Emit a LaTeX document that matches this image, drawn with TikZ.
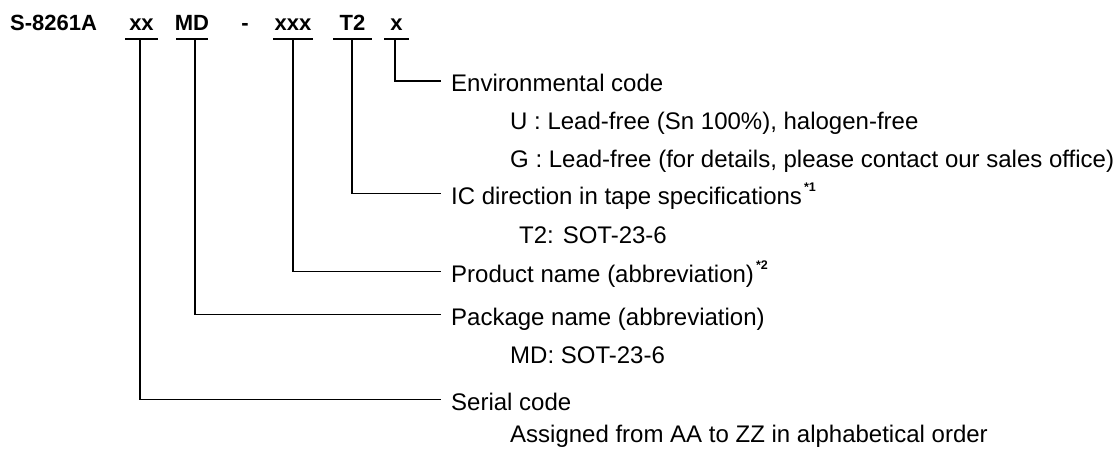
\documentclass[tikz,border=0pt]{standalone}
\usepackage{fontspec}
\setmainfont{Liberation Sans}
\newcommand{\fnmark}[1]{\kern2pt\raisebox{12.5pt}{\fontsize{12.5}{12.5}\selectfont\bfseries #1}}
\begin{document}
\begin{tikzpicture}[x=1pt,y=-1pt,
  code/.style={font=\fontsize{22}{26}\selectfont\bfseries, inner sep=0pt, anchor=base},
  lbl/.style={font=\fontsize{24}{28}\selectfont, inner sep=0pt, anchor=base west},
  uline/.style={line width=1.5pt},
  conn/.style={line width=1.5pt}]
\useasboundingbox (0,0) rectangle (1119,448);

% part number
\node[code, anchor=base west] (title) at (10,30) {S-8261A};
\node[code] (cxx)  at (141.5,30) {xx};
\node[code] (cmd)  at (192,30) {MD};
\node[code] (dash) at (245,30) {-};
\node[code] (cxxx) at (293,30) {xxx};
\node[code] (ct2)  at (352.5,30) {T2};
\node[code] (cx)   at (396.5,30) {x};

% underlines
\draw[uline] (125,39) -- (158,39);
\draw[uline] (176,39) -- (208,39);
\draw[uline] (273,39) -- (313,39);
\draw[uline] (333,39) -- (372,39);
\draw[uline] (384,39) -- (409,39);
\coordinate (uxx)  at (140,39);
\coordinate (umd)  at (195,39);
\coordinate (uxxx) at (293,39);
\coordinate (ut2)  at (352,39);
\coordinate (ux)   at (395,39);

% labels
\node[lbl] (env)  at (451,91.5) {Environmental code};
\node[lbl] (envu) at (510,129) {U : Lead-free (Sn 100\%), halogen-free};
\node[lbl] (envg) at (510,167) {G : Lead-free (for details, please contact our sales office)};
\node[lbl] (ic)   at (451,204) {IC direction in tape specifications\fnmark{*1}};
\node[lbl] (ict2) at (519,243) {T2: SOT-23-6};
\node[lbl] (prod) at (451,282) {Product name (abbreviation)\fnmark{*2}};
\node[lbl] (pkg)  at (451,325) {Package name (abbreviation)};
\node[lbl] (pkgmd) at (510,363.5) {MD: SOT-23-6};
\node[lbl] (ser)  at (451,410) {Serial code};
\node[lbl] (sera) at (510,442.5) {Assigned from AA to ZZ in alphabetical order};

% connectors
\draw[conn] (ux)   |- ([xshift=-10pt,yshift=10.5pt]env.base west);
\draw[conn] (ut2)  |- ([xshift=-10pt,yshift=10.5pt]ic.base west);
\draw[conn] (uxxx) |- ([xshift=-10pt,yshift=10.5pt]prod.base west);
\draw[conn] (umd)  |- ([xshift=-10pt,yshift=10.5pt]pkg.base west);
\draw[conn] (uxx)  |- ([xshift=-10pt,yshift=10.5pt]ser.base west);
\end{tikzpicture}
\end{document}
